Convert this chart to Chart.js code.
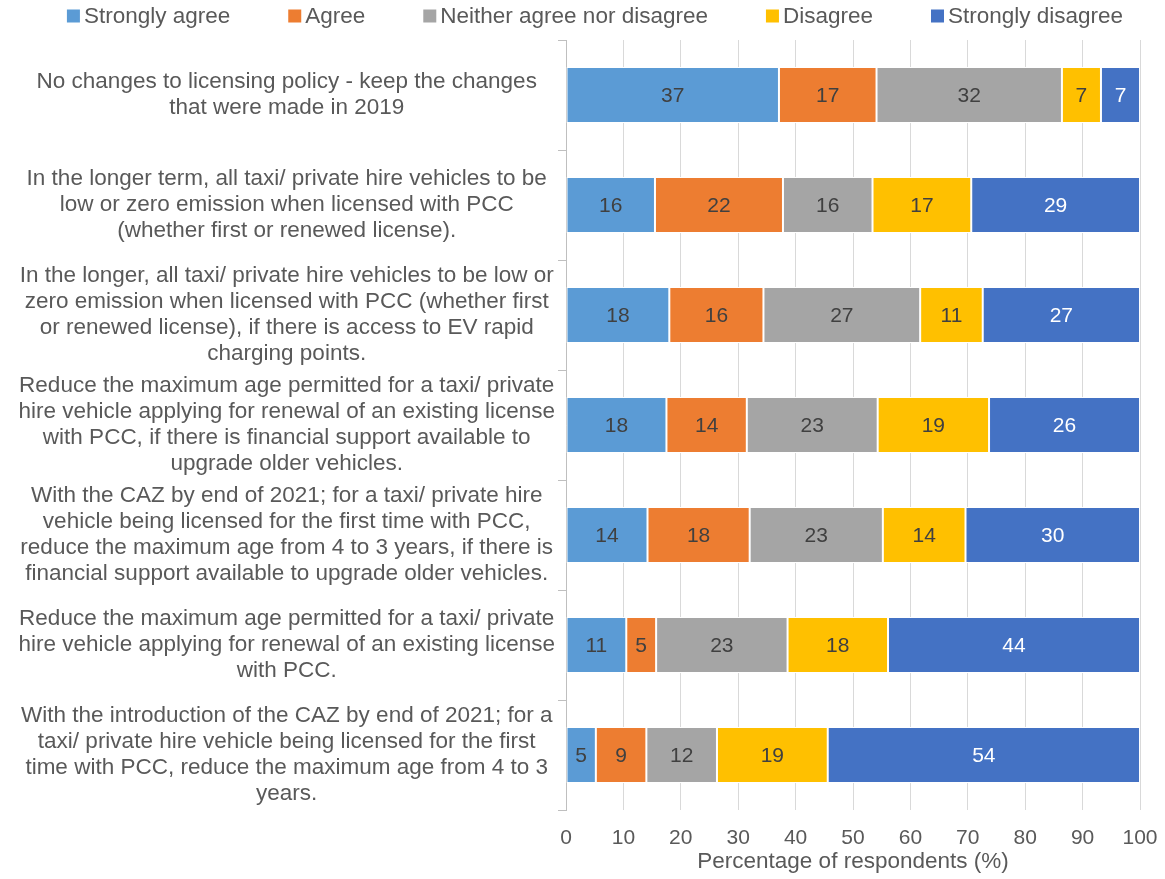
<!DOCTYPE html>
<html><head><meta charset="utf-8">
<script src="https://cdn.jsdelivr.net/npm/chart.js@4/dist/chart.umd.min.js"></script>
<style>html,body{margin:0;padding:0;background:#fff;}#wrap{width:1165px;height:879px;position:relative;}</style>
</head><body><div id="wrap"><canvas id="c" width="1165" height="879"></canvas></div>
<script>
const categories = [
  ["No changes to licensing policy - keep the changes", "that were made in 2019"],
  ["In the longer term, all taxi/ private hire vehicles to be", "low or zero emission when licensed with PCC", "(whether first or renewed license)."],
  ["In the longer, all taxi/ private hire vehicles to be low or", "zero emission when licensed with PCC (whether first", "or renewed license), if there is access to EV rapid", "charging points."],
  ["Reduce the maximum age permitted for a taxi/ private", "hire vehicle applying for renewal of an existing license", "with PCC, if there is financial support available to", "upgrade older vehicles."],
  ["With the CAZ by end of 2021; for a taxi/ private hire", "vehicle being licensed for the first time with PCC,", "reduce the maximum age from 4 to 3 years, if there is", "financial support available to upgrade older vehicles."],
  ["Reduce the maximum age permitted for a taxi/ private", "hire vehicle applying for renewal of an existing license", "with PCC."],
  ["With the introduction of the CAZ by end of 2021; for a", "taxi/ private hire vehicle being licensed for the first", "time with PCC, reduce the maximum age from 4 to 3", "years."]
];
const seriesNames = ["Strongly agree", "Agree", "Neither agree nor disagree", "Disagree", "Strongly disagree"];
const stronglyAgree    = [37.1, 15.5, 18.0, 17.5, 14.2, 10.5, 5.2];
const agree            = [17.0, 22.3, 16.4, 14.0, 17.8, 5.2, 8.8];
const neither          = [32.3, 15.6, 27.3, 22.8, 23.2, 22.9, 12.3];
const disagree         = [6.8, 17.2, 10.9, 19.4, 14.4, 17.5, 19.3];
const stronglyDisagree = [6.8, 29.4, 27.4, 26.3, 30.4, 43.9, 54.4];
const xTickValues = [0, 10, 20, 30, 40, 50, 60, 70, 80, 90, 100];
const axisTitle = "Percentage of respondents (%)";

const colors = ["#5B9BD5", "#ED7D31", "#A5A5A5", "#FFC000", "#4472C4"];
const labelColors = ["#404040", "#404040", "#404040", "#404040", "#ffffff"];
const FONT = "'Liberation Sans', Arial, sans-serif";
Chart.defaults.font.family = FONT;

const seriesData = [stronglyAgree, agree, neither, disagree, stronglyDisagree];
const datasets = seriesNames.map((name, i) => ({
  label: name,
  data: seriesData[i],
  backgroundColor: colors[i],
  borderColor: "#ffffff",
  borderWidth: 1,
  borderSkipped: false,
  barPercentage: 0.51,
  categoryPercentage: 1.0
}));

const valueLabels = {
  id: "valueLabels",
  afterDatasetsDraw(chart) {
    const ctx = chart.ctx;
    ctx.save();
    ctx.font = "21px " + FONT;
    ctx.textAlign = "center";
    ctx.textBaseline = "middle";
    chart.data.datasets.forEach((ds, i) => {
      const meta = chart.getDatasetMeta(i);
      meta.data.forEach((el, j) => {
        const v = ds.data[j];
        ctx.fillStyle = labelColors[i];
        ctx.fillText(String(Math.round(v)), (el.x + el.base) / 2, el.y + 1);
      });
    });
    ctx.restore();
  }
};

const topLegend = {
  id: "topLegend",
  afterDraw(chart) {
    const ctx = chart.ctx;
    ctx.save();
    ctx.font = "22.5px " + FONT;
    ctx.textBaseline = "middle";
    ctx.textAlign = "left";
    const box = 13, gap = 4, sep = 58;
    const items = chart.data.datasets.map(d => ({ t: d.label, c: d.backgroundColor, w: ctx.measureText(d.label).width }));
    let total = items.reduce((a, it) => a + box + gap + it.w, 0) + sep * (items.length - 1);
    let x = 595 - total / 2;
    const y = 16;
    items.forEach(it => {
      ctx.fillStyle = it.c;
      ctx.fillRect(x, y - box / 2, box, box);
      ctx.fillStyle = "#595959";
      ctx.fillText(it.t, x + box + gap, y + 1);
      x += box + gap + it.w + sep;
    });
    ctx.restore();
  }
};

new Chart(document.getElementById("c"), {
  type: "bar",
  data: { labels: categories, datasets },
  options: {
    responsive: false,
    animation: false,
    indexAxis: "y",
    layout: { padding: { top: 40, right: 25, bottom: 0, left: 0 } },
    plugins: { legend: { display: false }, tooltip: { enabled: false } },
    scales: {
      x: {
        stacked: true, min: 0, max: 100,
        afterBuildTicks(s) { s.ticks = xTickValues.map(v => ({ value: v })); },
        ticks: { color: "#595959", font: { size: 21 }, padding: 16 },
        grid: { color: "#d9d9d9", drawTicks: false },
        border: { display: false },
        title: { display: true, text: axisTitle, color: "#595959", font: { size: 22.5 }, padding: { top: 0, bottom: 4 } },
        afterFit(s) { s.height = 69; s.paddingLeft = 0; s.paddingRight = 0; }
      },
      y: {
        stacked: true,
        ticks: { color: "#595959", font: { size: 22.5, lineHeight: 1.16 }, crossAlign: "center", padding: 3, autoSkip: false },
        grid: { drawOnChartArea: false, drawTicks: true, tickLength: 8, color: "#bfbfbf", offset: true },
        border: { color: "#bfbfbf" },
        afterFit(s) { s.width = 566; s.paddingTop = 0; s.paddingBottom = 0; }
      }
    }
  },
  plugins: [valueLabels, topLegend]
});
</script>
</body></html>
